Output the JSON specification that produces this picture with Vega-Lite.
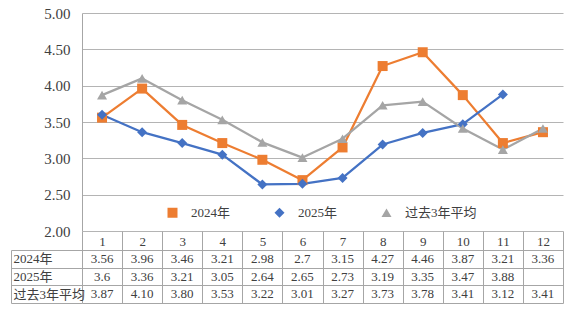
{
  "$schema": "https://vega.github.io/schema/vega-lite/v6.json",
  "width": 481,
  "height": 218,
  "autosize": {"type": "none"},
  "padding": {"left": 82, "top": 13, "right": 3, "bottom": 82},
  "background": "white",
  "config": {
    "view": {"stroke": null},
    "font": "Liberation Serif, Noto Sans CJK SC",
    "axis": {"labelFont": "Liberation Serif, Noto Sans CJK SC", "titleFont": "Liberation Serif", "labelOverlap": false},
    "legend": {"labelFont": "Liberation Serif, Noto Sans CJK SC"}
  },
  "data": {
    "values": [
      {"month": 1, "series": "2024年", "value": 3.56},
      {"month": 2, "series": "2024年", "value": 3.96},
      {"month": 3, "series": "2024年", "value": 3.46},
      {"month": 4, "series": "2024年", "value": 3.21},
      {"month": 5, "series": "2024年", "value": 2.98},
      {"month": 6, "series": "2024年", "value": 2.7},
      {"month": 7, "series": "2024年", "value": 3.15},
      {"month": 8, "series": "2024年", "value": 4.27},
      {"month": 9, "series": "2024年", "value": 4.46},
      {"month": 10, "series": "2024年", "value": 3.87},
      {"month": 11, "series": "2024年", "value": 3.21},
      {"month": 12, "series": "2024年", "value": 3.36},
      {"month": 1, "series": "2025年", "value": 3.6},
      {"month": 2, "series": "2025年", "value": 3.36},
      {"month": 3, "series": "2025年", "value": 3.21},
      {"month": 4, "series": "2025年", "value": 3.05},
      {"month": 5, "series": "2025年", "value": 2.64},
      {"month": 6, "series": "2025年", "value": 2.65},
      {"month": 7, "series": "2025年", "value": 2.73},
      {"month": 8, "series": "2025年", "value": 3.19},
      {"month": 9, "series": "2025年", "value": 3.35},
      {"month": 10, "series": "2025年", "value": 3.47},
      {"month": 11, "series": "2025年", "value": 3.88},
      {"month": 1, "series": "过去3年平均", "value": 3.87},
      {"month": 2, "series": "过去3年平均", "value": 4.10},
      {"month": 3, "series": "过去3年平均", "value": 3.80},
      {"month": 4, "series": "过去3年平均", "value": 3.53},
      {"month": 5, "series": "过去3年平均", "value": 3.22},
      {"month": 6, "series": "过去3年平均", "value": 3.01},
      {"month": 7, "series": "过去3年平均", "value": 3.27},
      {"month": 8, "series": "过去3年平均", "value": 3.73},
      {"month": 9, "series": "过去3年平均", "value": 3.78},
      {"month": 10, "series": "过去3年平均", "value": 3.41},
      {"month": 11, "series": "过去3年平均", "value": 3.12},
      {"month": 12, "series": "过去3年平均", "value": 3.41}
    ]
  },
  "layer": [
    {
      "layer": [
        {
          "mark": {"type": "line", "strokeWidth": 2.25, "strokeJoin": "round"},
          "encoding": {
            "x": {"field": "month", "type": "quantitative", "scale": {"domain": [0.5, 12.5], "nice": false, "zero": false},
              "axis": {"orient": "bottom", "values": [1,2,3,4,5,6,7,8,9,10,11,12], "tickCount": 12, "format": "d", "title": null, "ticks": false, "domain": false, "grid": false, "labelFontSize": 13, "labelColor": "#404040", "labelBaseline": "middle", "labelPadding": 10, "labelFlush": false, "labelOverlap": false}},
            "y": {"field": "value", "type": "quantitative", "scale": {"domain": [2, 5], "nice": false, "zero": false},
              "axis": {"orient": "left", "values": [2, 2.5, 3, 3.5, 4, 4.5, 5], "tickCount": 7, "format": ".2f", "title": null, "ticks": false, "domain": true, "domainColor": "#a6a6a6", "grid": true, "gridColor": "#b4b4b4", "gridWidth": 1, "labelFontSize": 15, "labelColor": "#404040", "labelPadding": 12, "labelOverlap": false, "labelFlush": false}},
            "color": {"field": "series", "type": "nominal", "scale": {"domain": ["2024年", "2025年", "过去3年平均"], "range": ["#ED7D31", "#4472C4", "#A5A5A5"]}}
          }
        },
        {
          "mark": {"type": "point", "filled": true, "opacity": 1, "size": 100},
          "encoding": {
            "x": {"field": "month", "type": "quantitative"},
            "y": {"field": "value", "type": "quantitative"},
            "color": {"field": "series", "type": "nominal",
              "legend": {"orient": "none", "legendX": 84, "legendY": 193, "direction": "horizontal", "title": null, "labelFontSize": 13, "labelColor": "#404040", "symbolSize": 100, "labelOffset": 12, "columnPadding": 42, "padding": 0, "symbolStrokeWidth": 0}},
            "shape": {"field": "series", "type": "nominal", "scale": {"domain": ["2024年", "2025年", "过去3年平均"], "range": ["square", "diamond", "triangle-up"]}}
          }
        }
      ]
    },
    {
      "layer": [
        {
          "transform": [{"filter": "datum.series !== '过去3年平均'"}],
          "mark": {"type": "text", "fontSize": 13, "color": "#404040", "baseline": "middle"},
          "encoding": {
            "x": {"field": "month", "type": "quantitative", "scale": {"domain": [0.5, 12.5], "nice": false, "zero": false},
              "axis": {"orient": "bottom", "values": [0.5,1.5,2.5,3.5,4.5,5.5,6.5,7.5,8.5,9.5,10.5,11.5,12.5], "tickCount": 13, "title": null, "labels": false, "ticks": true, "tickSize": 72, "tickColor": "#a6a6a6", "domain": false, "grid": false}},
            "y": {"field": "series", "type": "ordinal", "scale": {"type": "band", "domain": ["2024年", "2025年", "过去3年平均"], "range": [237, 290], "paddingInner": 0, "paddingOuter": 0},
              "axis": {"orient": "left", "offset": 71, "title": null, "domain": true, "domainColor": "#a6a6a6", "ticks": true, "tickSize": -71, "tickColor": "#a6a6a6", "tickBand": "extent", "grid": true, "gridColor": "#a6a6a6", "labelAlign": "left", "labelBaseline": "middle", "labelPadding": 69, "labelFontSize": 13, "labelColor": "#404040"}},
            "text": {"field": "value", "type": "nominal"}
          }
        },
        {
          "transform": [{"filter": "datum.series === '过去3年平均'"}],
          "mark": {"type": "text", "fontSize": 13, "color": "#404040", "baseline": "middle"},
          "encoding": {
            "x": {"field": "month", "type": "quantitative"},
            "y": {"field": "series", "type": "ordinal"},
            "text": {"field": "value", "type": "quantitative", "format": ".2f"}
          }
        }
      ]
    }
  ],
  "resolve": {"scale": {"x": "independent", "y": "independent"}}
}
